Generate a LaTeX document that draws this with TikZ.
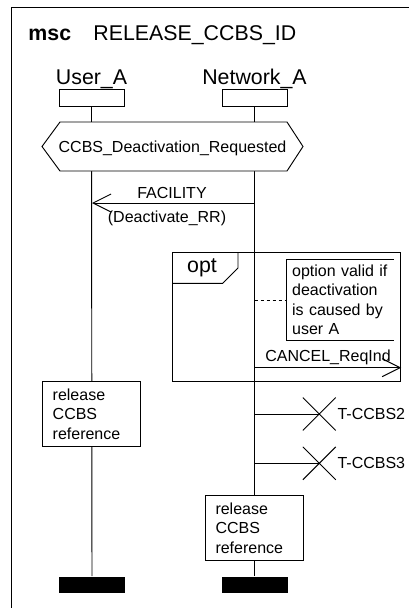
\documentclass[tikz,border=0pt]{standalone}
\usepackage{fontspec}
\setmainfont{Liberation Sans}
\usetikzlibrary{arrows.meta,positioning,shapes.misc}

\begin{document}
\begin{tikzpicture}[x=0.75pt,y=-0.75pt,line width=0.7pt,
		every node/.style={inner sep=0pt,font=\fontsize{12}{14.6}\selectfont},
		big/.style={font=\fontsize{16}{19}\selectfont},
		head/.style={draw,minimum width=48.75pt,minimum height=12.75pt},
		stop/.style={fill=black,minimum width=49.5pt,minimum height=12.5pt},
		relbox/.style={draw,fill=white,align=left,text width=58.5pt,inner xsep=7.5pt,minimum height=48.75pt},
		timer/.style={draw,cross out,minimum size=24pt},
		msg/.style={-{Straight Barb[length=13.5pt,width=13.5pt]}}]
		\useasboundingbox (0,0) rectangle (409,608);
		\draw (11.5,608) -- (11.5,7) -- (409,7);
		\node[big,anchor=base west] (kw) at (28,40.6) {\textbf{msc}};
		\node[big,anchor=base west] (name) at (93,40.6) {RELEASE\_CCBS\_ID};
		
		\node[head] (uhead) at (91.5,97.5) {};
		\node[head] (nhead) at (254.5,97.5) {};
		\node[big,anchor=base] (ulab) at (91.5,84.6) {User\_A};
		\node[big,anchor=base] (nlab) at (254.5,84.6) {Network\_A};
		\node[stop] (uend) at (92,585) {};
		\node[stop] (nend) at (254.5,585) {};
		\draw (uhead) -- (uend);
		\draw (nhead) -- (nend);
		
		\draw[fill=white] (60,122) -- (287,122) -- (303,146.5) -- (287,171) -- (60,171) -- (42,146.5) -- cycle;
		\node[anchor=base] (cond) at (172.5,152.5) {CCBS\_Deactivation\_Requested};
		
		\coordinate (facN) at (254.5,203);
		\coordinate (facU) at (92,203);
		\draw[msg] (facN) -- (facU);
		\node[anchor=base] (fac) at (172,198.7) {FACILITY};
		\node[anchor=base] (deact) at (167,222.5) {(Deactivate\_RR)};
		
		\node[draw,minimum width=171pt,minimum height=96.75pt] (opt) at (286.7,317.2) {};
		\draw (opt.west |- 0,283.3) -- (222.7,283.3) -- (238,268) -- (238,252.7);
		\node[big] (optlab) at (202,268) {opt};
		\node[align=left,text width=72pt,inner xsep=3.75pt,minimum height=60pt,anchor=west] (note) at (286.7,300) {option valid if\\deactivation\\is caused by\\user A};
		\draw (note.north east) -- (note.north west) -- (note.south west) -- (note.south east);
		\coordinate (noteN) at (254.5,300);
		\draw[dash pattern=on 2.25pt off 2.25pt] (noteN) -- (note.west);
		\coordinate (canN) at (254.5,367.7);
		\draw[msg] (canN) -- (canN -| opt.east);
		\node[anchor=base] (can) at (328,361.5) {CANCEL\_ReqInd};
		
		\node[relbox] (urel) at (91.7,414.2) {release\\CCBS\\reference};
		
		\coordinate (t2N) at (254.5,414);
		\node[timer] (t2) at (319.3,414) {};
		\node[right=1pt of t2] (t2lab) {T-CCBS2};
		\draw (t2N) -- (t2.center);
		\coordinate (t3N) at (254.5,463.3);
		\node[timer] (t3) at (319.3,463.3) {};
		\node[right=1pt of t3] (t3lab) {T-CCBS3};
		\draw (t3N) -- (t3.center);
		
		\node[relbox] (nrel) at (254.5,528.2) {release\\CCBS\\reference};
\end{tikzpicture}
\end{document}
